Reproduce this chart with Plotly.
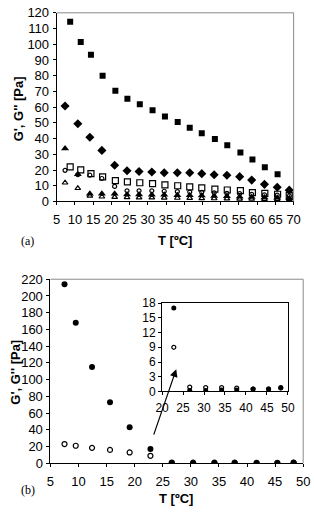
import plotly.graph_objects as go

# ---------- Panel (a) data ----------
T_sq = [8.7, 11.6, 14.4, 17.6, 21.1, 24.4, 27.8, 31.3, 34.7, 38.2, 41.5, 44.8, 48.4, 51.8, 55.4, 58.7, 62.1, 65.6]
G1_sq_filled = [114.4, 101.4, 93.4, 80.0, 70.4, 65.4, 61.9, 58.0, 54.1, 50.6, 46.9, 43.4, 39.7, 35.8, 31.2, 26.7, 21.8, 17.3]
T_sq_open = [8.7, 11.6, 14.4, 17.6, 21.1, 24.4, 27.8, 31.3, 34.7, 38.2, 41.5, 44.8, 48.4, 51.8, 55.4, 58.7, 62.1, 65.6, 68.8]
G2_sq_open = [22.0, 20.1, 17.7, 15.6, 13.3, 12.5, 11.9, 11.3, 10.5, 10.0, 9.3, 8.7, 7.9, 7.3, 6.9, 5.6, 5.2, 4.6, 3.7]

T_b_ser = [7.3, 10.8, 14.1, 17.4, 20.9, 24.3, 27.6, 31.1, 34.5, 38.1, 41.5, 44.8, 48.2, 51.7, 55.2, 58.5, 62.0, 65.5, 68.8]
G1_diamond = [60.7, 49.4, 40.9, 32.5, 23.0, 19.5, 19.1, 18.7, 18.3, 18.3, 18.3, 17.7, 17.0, 16.7, 15.8, 13.6, 10.9, 9.0, 7.2]
G2_circle = [19.8, 17.0, 16.7, 14.6, 9.6, 6.8, 6.8, 6.8, 6.5, 6.3, 6.0, 5.8, 5.5, 5.2, 5.0, 4.5, 4.2, 4.0, 3.5]
G1_tri = [33.7, 17.3, 4.9, 4.9, 4.9, 4.5, 4.5, 4.3, 4.2, 4.0, 4.0, 3.8, 3.5, 3.3, 3.0, 2.8, 2.5, 2.3, 2.0]
G2_tri_open = [11.9, 8.4, 3.5, 3.0, 2.8, 2.6, 2.5, 2.4, 2.3, 2.2, 2.1, 2.0, 1.9, 1.8, 1.7, 1.6, 1.5, 1.5, 1.4]

# ---------- Panel (b) data ----------
T_b = [7.5, 9.5, 12.4, 15.6, 19.1, 22.8, 26.6, 30.4, 34.2, 37.8, 41.7, 45.4, 48.3]
Gp_b = [214, 168, 115, 73, 43, 17, 0.2, 0.2, 0.3, 0.3, 0.5, 0.5, 0.8]
Gpp_b = [23, 21, 18.5, 16, 13, 9, 0.9, 0.8, 0.8, 0.7, 0.5, 0.5, 0.7]

# ---------- ticks ----------
xt_a = list(range(5, 71, 5))
yt_a = list(range(0, 121, 10))
xt_b = list(range(5, 51, 5))
yt_b = list(range(0, 221, 20))
xt_in = list(range(20, 51, 5))
yt_in = list(range(0, 19, 3))

W, H = 314, 515
def px(x):
    return x / W
def py(y):
    return 1 - y / H

fig = go.Figure()

def mk(symbol, size, filled=True):
    if filled:
        return dict(symbol=symbol, size=size, color="black", line=dict(width=0))
    return dict(symbol=symbol + "-open", size=size, color="black", line=dict(width=1.2, color="black"))

# Panel (a)
fig.add_trace(go.Scatter(x=T_b_ser, y=G2_tri_open, mode="markers", marker=mk("triangle-up", 5, False), xaxis="x", yaxis="y"))
fig.add_trace(go.Scatter(x=T_b_ser, y=G1_tri, mode="markers", marker=mk("triangle-up", 7), xaxis="x", yaxis="y"))
fig.add_trace(go.Scatter(x=T_b_ser, y=G2_circle, mode="markers", marker=mk("circle", 4, False), xaxis="x", yaxis="y"))
fig.add_trace(go.Scatter(x=T_sq_open, y=G2_sq_open, mode="markers", marker=mk("square", 6, False), xaxis="x", yaxis="y"))
fig.add_trace(go.Scatter(x=T_b_ser, y=G1_diamond, mode="markers", marker=mk("diamond", 7), xaxis="x", yaxis="y"))
fig.add_trace(go.Scatter(x=T_sq, y=G1_sq_filled, mode="markers", marker=mk("square", 6), xaxis="x", yaxis="y"))

# Panel (b)
fig.add_trace(go.Scatter(x=T_b, y=Gpp_b, mode="markers", marker=mk("circle", 5, False), xaxis="x2", yaxis="y2"))
fig.add_trace(go.Scatter(x=T_b, y=Gp_b, mode="markers", marker=mk("circle", 6), xaxis="x2", yaxis="y2"))

# Inset (points from T >= 20)
T_in = [t for t in T_b if t >= 20]
Gp_in = [g for t, g in zip(T_b, Gp_b) if t >= 20]
Gpp_in = [g for t, g in zip(T_b, Gpp_b) if t >= 20]
fig.add_trace(go.Scatter(x=T_in, y=Gpp_in, mode="markers", marker=mk("circle", 4, False), xaxis="x3", yaxis="y3"))
fig.add_trace(go.Scatter(x=T_in, y=Gp_in, mode="markers", marker=mk("circle", 5), xaxis="x3", yaxis="y3"))

tickfont = dict(family="Liberation Sans, Arial", size=13, color="black")
tickfont_in = dict(family="Liberation Sans, Arial", size=12, color="black")
common = dict(showgrid=False, zeroline=False, showline=True, linecolor="black", linewidth=1,
              ticks="outside", ticklen=3, tickcolor="black")

fig.update_layout(
    width=W, height=H,
    margin=dict(l=0, r=0, t=0, b=0),
    paper_bgcolor="white", plot_bgcolor="white",
    showlegend=False,
    xaxis=dict(domain=[px(52), px(300)], range=[5, 70], tickvals=xt_a, anchor="y", tickfont=tickfont,
               ticklabelstandoff=3, **common),
    yaxis=dict(domain=[py(200.3), py(6)], range=[0, 120], tickvals=yt_a, anchor="x", tickfont=tickfont,
               ticklabelstandoff=1, **common),
    xaxis2=dict(domain=[px(45.5), px(310)], range=[5, 50], tickvals=xt_b, anchor="y2", tickfont=tickfont,
                ticklabelstandoff=3, **common),
    yaxis2=dict(domain=[py(470), py(280.4)], range=[0, 220], tickvals=yt_b, anchor="x2", tickfont=tickfont,
                ticklabelstandoff=1, **common),
    xaxis3=dict(domain=[px(162.3), px(294)], range=[20, 50], tickvals=xt_in, anchor="y3", mirror=True,
                tickfont=tickfont_in, ticklabelstandoff=2, **common),
    yaxis3=dict(domain=[py(396), py(305)], range=[0, 18], tickvals=yt_in, anchor="x3", mirror=True,
                tickfont=tickfont_in, **common),
)

# gray top/right frames for the main panels
for xr, yr in [("x", "y"), ("x2", "y2")]:
    fig.add_shape(type="line", xref=xr + " domain", yref=yr + " domain", x0=0, x1=1, y0=1, y1=1,
                  line=dict(color="#8a8a8a", width=1))
    fig.add_shape(type="line", xref=xr + " domain", yref=yr + " domain", x0=1, x1=1, y0=0, y1=1,
                  line=dict(color="#8a8a8a", width=1))

titlefont = dict(family="Liberation Sans, Arial", size=13, color="black")
ann = [
    dict(text="<b>G', G'' [Pa]</b>", x=px(13), y=py(105), textangle=-90),
    dict(text="<b>G', G'' [Pa]</b>", x=px(8), y=py(376), textangle=-90),
    dict(text="<b>T [ºC]</b>", x=px(176), y=py(240)),
    dict(text="<b>T [ºC]</b>", x=px(177), y=py(506)),
]
for a in ann:
    fig.add_annotation(xref="paper", yref="paper", showarrow=False, font=titlefont,
                       xanchor="center", yanchor="middle", **a)

serif = dict(family="Liberation Serif, Times New Roman", size=12, color="black")
fig.add_annotation(text="(a)", xref="paper", yref="paper", x=px(13), y=py(241), showarrow=False, font=serif)
fig.add_annotation(text="(b)", xref="paper", yref="paper", x=px(13), y=py(507), showarrow=False, font=serif)

# arrow pointing into the inset
fig.add_annotation(x=27.4, y=112.5, xref="x2", yref="y2", ax=23.3, ay=32.5, axref="x2", ayref="y2",
                   text="", showarrow=True, arrowhead=2, arrowsize=1.3, arrowwidth=1.2, arrowcolor="black")

fig.write_html("out.html")
